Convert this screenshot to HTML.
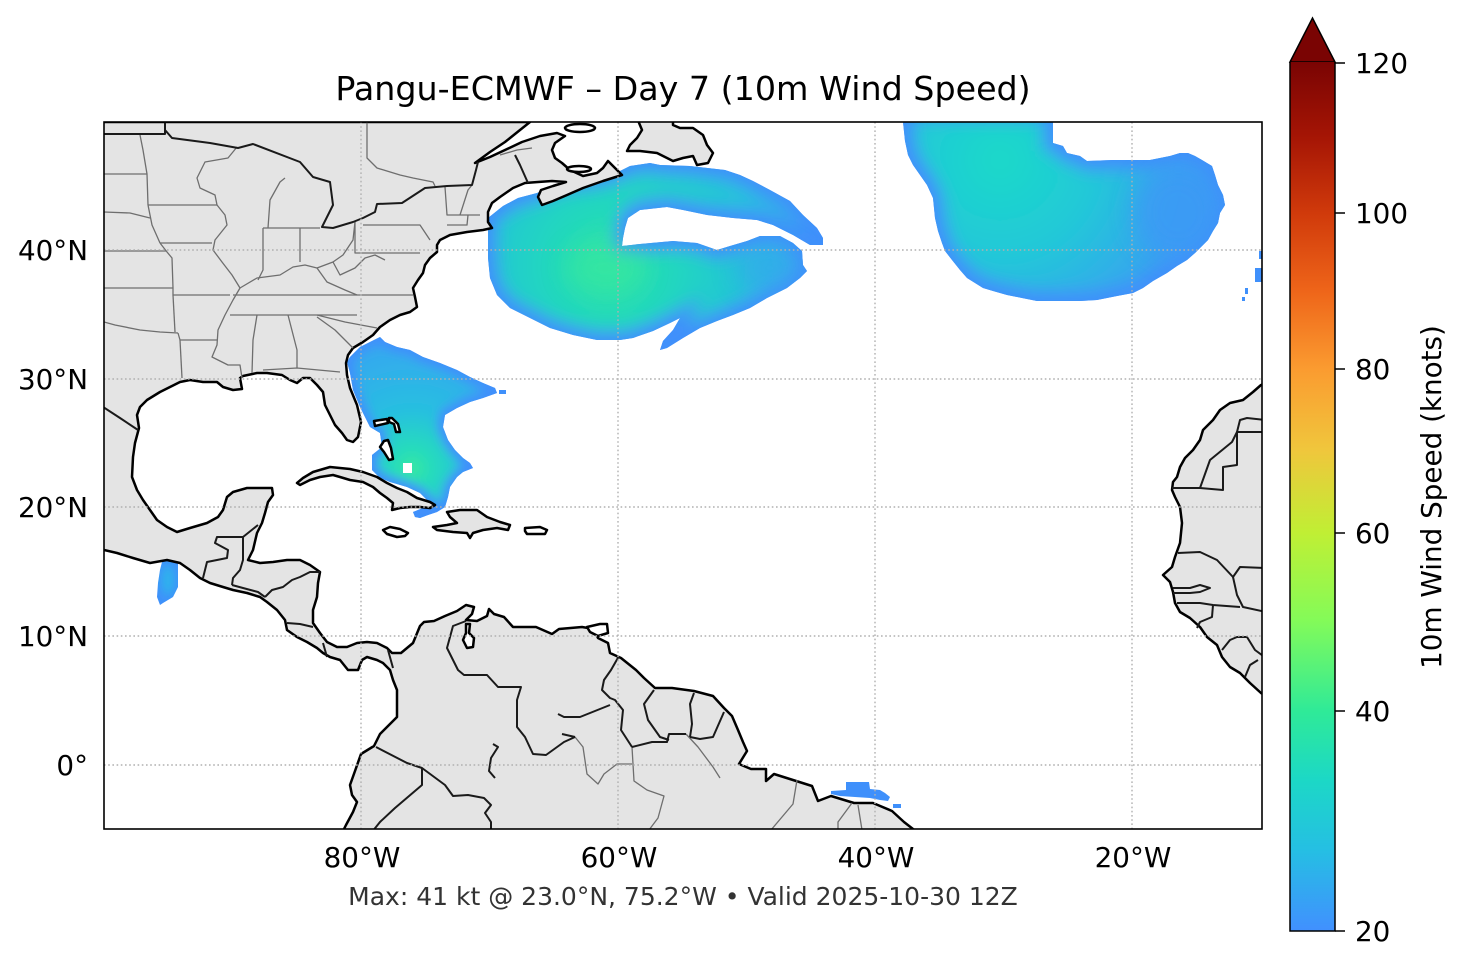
<!DOCTYPE html>
<html><head><meta charset="utf-8"><style>
html,body{margin:0;padding:0;background:#fff;}
body{width:1466px;height:969px;overflow:hidden;}
svg{display:block;font-family:"DejaVu Sans","Liberation Sans",sans-serif;}
</style></head><body>
<svg width="1466" height="969" viewBox="0 0 1466 969" xmlns="http://www.w3.org/2000/svg">
<defs>
<clipPath id="map"><rect x="104" y="122" width="1158" height="707"/></clipPath>
<filter id="bl8" x="-30%" y="-30%" width="160%" height="160%"><feGaussianBlur stdDeviation="8"/></filter>
<filter id="bl5" x="-30%" y="-30%" width="160%" height="160%"><feGaussianBlur stdDeviation="5"/></filter>
<filter id="bl12" x="-50%" y="-50%" width="200%" height="200%"><feGaussianBlur stdDeviation="12"/></filter>
<radialGradient id="g1" gradientUnits="userSpaceOnUse" cx="610" cy="266" r="220">
<stop offset="0" stop-color="#34e6a4"/><stop offset="0.3" stop-color="#1fd6c0"/><stop offset="0.7" stop-color="#26bfde"/><stop offset="1" stop-color="#38a2f0"/></radialGradient>
<radialGradient id="g2" gradientUnits="userSpaceOnUse" cx="1000" cy="160" r="190">
<stop offset="0" stop-color="#1bd9c9"/><stop offset="0.5" stop-color="#22c8d8"/><stop offset="1" stop-color="#38a2f0"/></radialGradient>
<radialGradient id="g3" gradientUnits="userSpaceOnUse" cx="412" cy="468" r="130">
<stop offset="0" stop-color="#38e8a0"/><stop offset="0.15" stop-color="#25dcbc"/><stop offset="0.45" stop-color="#27bfe0"/><stop offset="1" stop-color="#36a6f0"/></radialGradient>
<linearGradient id="cb" x1="0" y1="0" x2="0" y2="1">
<stop offset="0" stop-color="#7a0403"/><stop offset="0.086" stop-color="#a51505"/><stop offset="0.174" stop-color="#d03a0b"/><stop offset="0.262" stop-color="#ee6419"/><stop offset="0.353" stop-color="#fb9b30"/><stop offset="0.446" stop-color="#f0c63c"/><stop offset="0.542" stop-color="#c0ef34"/><stop offset="0.642" stop-color="#84fb58"/><stop offset="0.747" stop-color="#2fea98"/><stop offset="0.826" stop-color="#1cd8c6"/><stop offset="0.907" stop-color="#25bfe3"/><stop offset="1" stop-color="#4190ff"/></linearGradient>
<clipPath id="p1c"><polygon id="p1" points="488,218 503,206 518,198 537,193 560,183 580,181 600,178 620,171 630,166 650,163 660,165 690,166 725,170 740,175 753,181 770,190 790,201 803,215 817,228 823,238 823,245 810,245 793,235 773,225 757,220 733,218 707,215 683,210 667,207 640,210 628,218 625,228 623,238 622,246 640,244 673,241 697,243 717,250 730,246 747,241 760,236 780,236 793,243 802,251 803,265 807,271 800,278 787,288 767,298 750,308 733,315 717,321 700,328 683,338 667,348 660,350 663,341 673,330 680,318 670,323 653,331 633,338 620,340 597,340 573,335 550,328 530,318 510,308 497,295 490,278 488,258 488,231"/></clipPath>
<clipPath id="p2c"><polygon points="903,122 1053,122 1053,143 1063,146 1067,153 1080,156 1087,161 1113,160 1150,160 1170,156 1180,153 1188,153 1195,156 1202,160 1212,166 1215,175 1218,185 1223,195 1225,205 1220,213 1218,223 1213,231 1208,240 1202,246 1195,253 1187,260 1177,266 1167,273 1153,281 1143,288 1133,293 1117,296 1097,300 1080,301 1060,301 1037,301 1022,298 1007,295 993,291 983,288 975,283 967,278 960,270 952,260 945,251 942,243 938,231 935,218 933,198 927,185 920,175 913,165 908,155 905,141"/></clipPath>
<clipPath id="p3c"><polygon points="347,362 350,357 360,347 370,342 380,337 385,342 397,347 410,350 423,357 440,363 457,370 470,377 483,383 495,388 497,393 483,398 470,402 457,408 445,415 443,427 448,440 455,450 463,458 470,463 473,468 463,472 457,477 450,487 448,497 445,507 437,512 428,515 420,518 415,517 413,512 423,508 430,503 420,493 407,487 390,482 380,478 372,470 372,455 382,447 380,433 370,427 360,407 353,390 350,373"/></clipPath>
<clipPath id="p4c"><polygon points="163,558 172,559 178,563 178,587 173,597 163,603 160,605 157,597 158,583 160,570"/></clipPath>
</defs>
<rect width="1466" height="969" fill="#fff"/>
<g clip-path="url(#map)">
<g clip-path="url(#p1c)">
<rect x="480" y="155" width="350" height="200" fill="#3f90fb"/>
<g filter="url(#bl8)"><use href="#p1" fill="url(#g1)" stroke="#3f90fb" stroke-width="18"/></g>
<ellipse cx="605" cy="268" rx="40" ry="26" fill="#36e6a0" opacity="0.7" filter="url(#bl12)"/>
<ellipse cx="770" cy="268" rx="35" ry="25" fill="#3aa0f2" opacity="0.5" filter="url(#bl12)"/>
</g>
<g clip-path="url(#p2c)">
<rect x="895" y="115" width="340" height="195" fill="#3f90fb"/>
<g filter="url(#bl8)"><polygon points="903,110 1053,110 1053,143 1063,146 1067,153 1080,156 1087,161 1113,160 1150,160 1170,156 1180,153 1188,153 1195,156 1202,160 1212,166 1215,175 1218,185 1223,195 1225,205 1220,213 1218,223 1213,231 1208,240 1202,246 1195,253 1187,260 1177,266 1167,273 1153,281 1143,288 1133,293 1117,296 1097,300 1080,301 1060,301 1037,301 1022,298 1007,295 993,291 983,288 975,283 967,278 960,270 952,260 945,251 942,243 938,231 935,218 933,198 927,185 920,175 913,165 908,155 905,141" fill="url(#g2)" stroke="#3f90fb" stroke-width="20"/></g>
<ellipse cx="1178" cy="212" rx="45" ry="48" fill="#3c98f6" opacity="0.75" filter="url(#bl12)"/>
</g>
<g clip-path="url(#p3c)">
<rect x="340" y="330" width="165" height="195" fill="#3f90fb"/>
<g filter="url(#bl5)"><polygon points="347,362 350,357 360,347 370,342 380,337 385,342 397,347 410,350 423,357 440,363 457,370 470,377 483,383 495,388 497,393 483,398 470,402 457,408 445,415 443,427 448,440 455,450 463,458 470,463 473,468 463,472 457,477 450,487 448,497 445,507 437,512 428,515 420,518 415,517 413,512 423,508 430,503 420,493 407,487 390,482 380,478 372,470 372,455 382,447 380,433 370,427 360,407 353,390 350,373" fill="url(#g3)" stroke="#3f90fb" stroke-width="12"/></g>
</g>
<rect x="403" y="463" width="9" height="10" fill="#fff"/>
<rect x="499" y="390" width="7" height="4" fill="#3f90fb"/>
<g clip-path="url(#p4c)"><rect x="150" y="550" width="35" height="60" fill="#3f90fb"/><ellipse cx="168" cy="580" rx="6" ry="16" fill="#2cb8ea" filter="url(#bl5)"/></g>
<polygon points="831,791 846,790 846,782 869,782 870,789 880,790 885,793 890,797 888,801 880,800 870,798 840,796 831,794" fill="#3f90fb"/>
<rect x="893" y="804" width="8" height="4" fill="#3f90fb"/>
<rect x="1259" y="251" width="3" height="8" fill="#3f90fb"/>
<rect x="1255" y="268" width="7" height="14" fill="#3f90fb"/>
<rect x="1245" y="288" width="3" height="6" fill="#3f90fb"/>
<rect x="1242" y="297" width="3" height="4" fill="#3f90fb"/>

<g fill="#e4e4e4" stroke="#000" stroke-width="2.5" stroke-linejoin="round">
<polygon points="104,122 530,122 520,130 505,142 490,152 475,163 490,157 505,150 522,142 540,136 557,133 565,136 555,143 552,150 555,158 562,163 570,170 583,176 597,173 603,168 608,161 612,165 622,175 603,181 583,188 567,195 553,201 542,205 538,197 541,190 553,186 566,182 552,181 538,182 525,183 513,188 500,197 492,203 488,212 488,222 492,228 483,230 467,232 450,235 440,240 437,245 437,252 430,258 425,265 423,273 418,280 413,288 415,297 417,307 410,312 400,315 390,320 380,327 373,335 363,342 353,348 348,355 346,363 347,375 350,388 357,405 361,422 358,437 353,442 347,440 342,433 335,425 330,415 325,405 323,392 317,385 310,378 303,378 297,383 290,380 282,375 267,373 257,373 243,376 240,378 242,389 233,390 223,387 217,382 203,382 190,380 180,382 170,387 160,392 147,400 140,407 137,415 139,428 135,443 133,457 132,477 137,490 143,500 150,510 157,520 167,527 177,532 190,528 207,523 218,517 223,510 227,497 233,492 247,488 260,488 272,488 273,495 268,502 265,513 262,523 257,533 253,550 248,560 260,563 273,562 287,560 300,560 310,565 320,572 318,583 317,597 313,610 313,623 320,633 327,642 337,647 347,647 357,643 367,642 377,643 387,648 392,653 401,653 413,643 420,626 424,622 434,621 445,616 457,611 466,605 474,607 472,614 466,620 477,621 487,616 489,609 494,614 504,617 513,627 536,627 552,634 559,629 582,627 594,629 598,638 608,643 610,653 621,658 636,670 644,678 655,688 672,688 694,691 713,696 724,708 732,716 738,730 743,742 747,751 739,764 751,769 766,769 766,781 774,774 793,780 812,786 818,801 831,796 854,803 873,803 892,811 904,822 913,829 920,834 340,834 344,829 346,825 353,812 357,802 352,795 350,785 355,771 361,754 374,746 380,734 397,717 397,690 393,680 390,670 383,663 377,660 367,657 362,660 358,670 348,670 340,660 330,657 323,653 317,648 307,642 297,637 287,630 285,620 277,610 267,602 260,597 247,593 233,590 223,587 210,583 200,578 190,570 180,563 167,560 150,563 133,558 117,553 104,550 100,550 100,122"/>
<polygon points="637,118 673,118 673,125 680,128 693,128 703,135 707,145 713,153 708,163 697,165 693,156 683,158 673,161 667,158 657,153 640,151 627,151 630,145 637,138 642,130"/>
<polygon points="297,483 303,478 313,472 330,467 350,469 363,472 377,477 387,483 397,488 407,492 417,498 430,502 435,505 430,508 420,507 410,507 400,508 392,510 393,503 387,498 380,493 373,487 363,482 350,480 340,477 333,475 320,477 310,480 300,485"/>
<polygon points="433,527 447,525 457,523 450,517 447,512 460,510 477,510 487,517 500,522 510,525 508,530 497,528 483,530 473,533 470,538 467,533 453,532 437,530"/>
<polygon points="1266,383 1261,385 1253,392 1243,400 1230,403 1220,410 1213,420 1203,430 1200,440 1193,450 1185,458 1180,467 1177,477 1173,482 1172,490 1175,497 1180,507 1182,523 1180,543 1175,557 1172,567 1163,575 1170,582 1173,592 1175,603 1180,612 1190,618 1200,627 1207,637 1217,645 1222,657 1230,667 1240,673 1250,683 1261,693 1266,696"/>
</g>
<g fill="#fff" stroke="#000" stroke-width="2.5" stroke-linejoin="round">
<polygon points="383,530 390,527 400,529 408,533 405,536 397,537 387,534"/>
<polygon points="525,528 540,527 547,530 545,534 527,534 525,531"/>
<polygon points="374,421 387,419 388,423 375,426"/>
<polygon points="389,418 392,418 398,424 400,432 396,432 394,424 389,422"/>
<polygon points="384,441 388,440 391,448 393,459 389,460 384,452 380,447"/>
<polygon points="587,627 600,624 607,624 608,633 598,636 590,632"/>
<polygon points="466,624 470,624 469,633 474,638 473,647 467,648 463,640 466,633"/>
<ellipse cx="580" cy="128" rx="15" ry="4"/>
<ellipse cx="579" cy="169" rx="12" ry="3"/>
</g>
<g fill="none" stroke="#6e6e6e" stroke-width="1.3" stroke-linejoin="round">
<polyline points="104,174 147,174"/>
<polyline points="140,135 143,150 147,174 148,205"/>
<polyline points="104,212 130,213 150,218"/>
<polyline points="148,205 152,225 160,243"/>
<polyline points="148,205 217,205"/>
<polyline points="160,243 212,243"/>
<polyline points="104,251 166,251"/>
<polyline points="160,243 167,252 172,258 173,288"/>
<polyline points="104,288 173,288"/>
<polyline points="173,288 173,295 230,295"/>
<polyline points="173,295 175,332"/>
<polyline points="104,322 115,325 140,330 160,332 178,333"/>
<polyline points="178,333 180,340 217,340"/>
<polyline points="180,340 182,378"/>
<polyline points="217,205 225,215 227,225 215,240 213,250 222,262 232,275 240,288 233,300 225,315 218,330 217,345 212,357 228,365 240,365 242,378"/>
<polyline points="237,147 228,158 205,162 197,178 200,188 215,195 217,205"/>
<polyline points="268,228 270,200 280,182 285,178"/>
<polyline points="263,228 263,270 258,280"/>
<polyline points="300,228 300,262"/>
<polyline points="263,228 320,228"/>
<polyline points="240,288 257,278 280,275 293,267 305,265 317,268 333,262 343,255 353,240 355,222"/>
<polyline points="355,222 355,253 420,253"/>
<polyline points="363,225 420,225 430,240"/>
<polyline points="333,262 340,275 355,268 365,258 375,255 385,260"/>
<polyline points="233,295 413,295"/>
<polyline points="317,268 327,282 345,290 357,295"/>
<polyline points="230,315 357,315"/>
<polyline points="317,315 345,322 377,328"/>
<polyline points="317,317 335,330 353,348"/>
<polyline points="257,315 253,340 252,373"/>
<polyline points="288,315 297,350 297,368"/>
<polyline points="263,370 297,368 340,372"/>
<polyline points="445,187 447,215 480,215"/>
<polyline points="447,225 467,225 468,215"/>
<polyline points="460,215 468,190 472,185"/>
<polyline points="367,122 367,158 377,168 400,175 413,178 433,182 435,186"/>
<polyline points="500,155 517,150 532,148"/>
<polyline points="575,737 583,747 587,774 598,784 604,774 617,764 632,764"/>
<polyline points="632,747 634,781 647,790 664,796 658,818 649,830"/>
<polyline points="686,734 698,747 713,767 720,778"/>
<polyline points="797,780 793,804 771,830"/>
<polyline points="852,803 838,822 838,830"/>
<polyline points="858,805 862,830"/>
</g>
<g fill="none" stroke="#1a1a1a" stroke-width="2" stroke-linejoin="round">
<polyline points="100,134 165,134 165,122"/>
<polyline points="165,130 172,138 210,143 238,148 253,144 300,162 313,177 330,182 333,205 322,227 333,228 353,222 363,218 375,212 377,204 402,203 425,188 447,186 472,185 476,170 478,162"/>
<polyline points="515,155 520,165 528,183"/>
<polyline points="100,405 120,418 138,430"/>
<polyline points="203,578 207,562 227,558 228,550 215,543 217,537 243,537 258,525"/>
<polyline points="243,537 243,560 240,570 233,578 232,585"/>
<polyline points="232,585 243,588 258,592 265,597"/>
<polyline points="265,597 272,590 283,587 292,580 300,577 310,572 320,572"/>
<polyline points="287,623 300,624 313,627"/>
<polyline points="323,643 325,650 327,657"/>
<polyline points="388,650 393,668"/>
<polyline points="466,621 453,626 447,648 458,670 464,675 487,675 498,687 521,687 517,700 517,727 525,737 533,754 546,755 564,742 575,737"/>
<polyline points="619,656 611,670 604,680 602,690 610,698 615,700 623,710 621,730 632,747"/>
<polyline points="558,714 564,717 580,717 610,705"/>
<polyline points="562,734 575,737"/>
<polyline points="654,690 644,704 648,720 660,737 669,740"/>
<polyline points="632,747 652,742 667,742 669,734 686,734"/>
<polyline points="694,693 690,704 692,724 690,737"/>
<polyline points="724,712 713,737 700,739 690,737"/>
<polyline points="376,747 407,763 422,768 445,785 453,796 468,795 484,798 491,805 485,813 491,822 491,832"/>
<polyline points="493,744 498,747 491,758 489,771 495,778"/>
<polyline points="422,768 422,785 395,808 380,822 372,832"/>
<polyline points="1172,488 1200,488 1223,490 1223,467 1237,465 1237,432 1266,432"/>
<polyline points="1200,488 1210,460 1232,442 1237,432"/>
<polyline points="1237,432 1240,420 1247,418 1266,420"/>
<polyline points="1178,553 1200,552 1217,560 1233,577 1240,567 1266,568"/>
<polyline points="1233,577 1237,595 1243,607 1266,612"/>
<polyline points="1173,588 1190,588 1200,585 1210,588 1200,592 1190,593 1173,593"/>
<polyline points="1177,603 1200,603 1213,605 1240,607"/>
<polyline points="1213,605 1212,617 1200,622 1197,628"/>
<polyline points="1222,650 1230,640 1237,637 1247,637 1255,650 1266,658"/>
<polyline points="1245,677 1250,665 1258,660"/>
</g>
<g stroke="#b0b0b0" stroke-width="1.4" stroke-dasharray="1.6 2.6" fill="none">
<line x1="361" y1="122" x2="361" y2="829"/>
<line x1="618" y1="122" x2="618" y2="829"/>
<line x1="875" y1="122" x2="875" y2="829"/>
<line x1="1132" y1="122" x2="1132" y2="829"/>
<line x1="104" y1="250" x2="1262" y2="250"/>
<line x1="104" y1="379" x2="1262" y2="379"/>
<line x1="104" y1="507" x2="1262" y2="507"/>
<line x1="104" y1="636" x2="1262" y2="636"/>
<line x1="104" y1="765" x2="1262" y2="765"/>
</g>
</g>
<rect x="104" y="122" width="1158" height="707" fill="none" stroke="#000" stroke-width="1.6"/>

<text x="683" y="100" font-size="33.3" text-anchor="middle" fill="#000">Pangu-ECMWF – Day 7 (10m Wind Speed)</text>
<g font-size="27.8" text-anchor="end" fill="#000">
<text x="88" y="260">40°N</text>
<text x="88" y="389">30°N</text>
<text x="88" y="517">20°N</text>
<text x="88" y="646">10°N</text>
<text x="88" y="775">0°</text>
</g>
<g font-size="27.8" text-anchor="middle" fill="#000">
<text x="362" y="867">80°W</text>
<text x="619" y="867">60°W</text>
<text x="876" y="867">40°W</text>
<text x="1133" y="867">20°W</text>
</g>
<text x="683" y="905" font-size="25" text-anchor="middle" fill="#333">Max: 41 kt @ 23.0°N, 75.2°W • Valid 2025-10-30 12Z</text>

<polygon points="1290,62 1312.5,18 1335,62" fill="#7a0403" stroke="#000" stroke-width="1.5" stroke-linejoin="miter"/>
<rect x="1290" y="62" width="45" height="869" fill="url(#cb)"/>
<polyline points="1290,62 1290,931 1335,931 1335,62" fill="none" stroke="#000" stroke-width="1.5"/>
<g stroke="#000" stroke-width="1.5">
<line x1="1335" y1="63" x2="1345" y2="63"/>
<line x1="1335" y1="213" x2="1345" y2="213"/>
<line x1="1335" y1="369" x2="1345" y2="369"/>
<line x1="1335" y1="533" x2="1345" y2="533"/>
<line x1="1335" y1="711" x2="1345" y2="711"/>
<line x1="1335" y1="931" x2="1345" y2="931"/>
</g>
<g font-size="27.8" fill="#000">
<text x="1355" y="73">120</text>
<text x="1355" y="223">100</text>
<text x="1355" y="379">80</text>
<text x="1355" y="543">60</text>
<text x="1355" y="721">40</text>
<text x="1355" y="941">20</text>
</g>
<text x="0" y="0" font-size="27.8" text-anchor="middle" fill="#000" transform="translate(1441,497) rotate(-90)">10m Wind Speed (knots)</text>
</svg>
</body></html>
